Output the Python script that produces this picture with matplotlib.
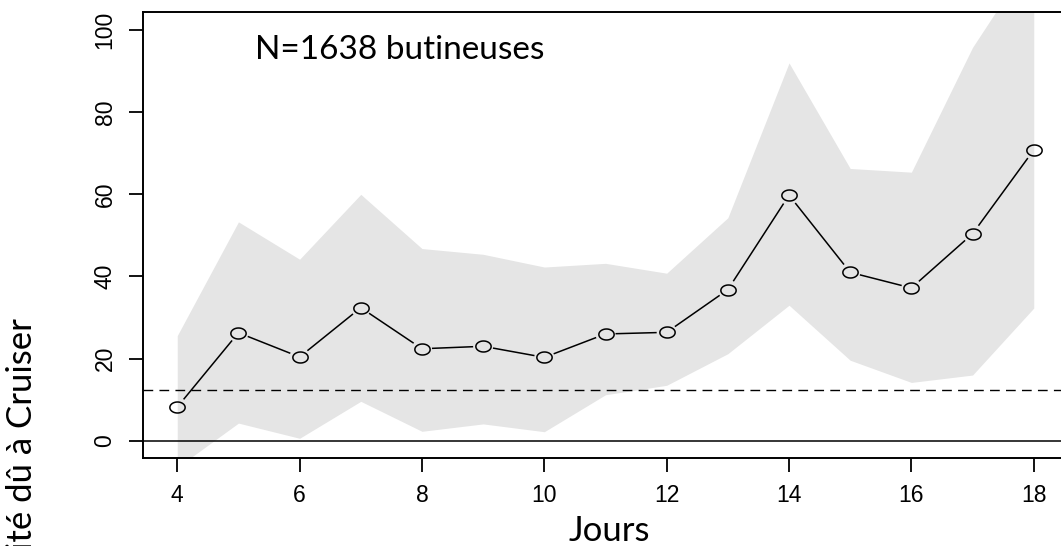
import numpy as np
import matplotlib
matplotlib.use("Agg")
import matplotlib.pyplot as plt
from matplotlib.path import Path

# ---- data ----
days = [4, 5, 6, 7, 8, 9, 10, 11, 12, 13, 14, 15, 16, 17, 18]
mean = [8.2, 26.3, 20.4, 32.4, 22.4, 23.0, 20.3, 26.0, 26.4, 36.8, 59.8, 41.0, 37.2, 50.4, 70.8]
upper = [25.6, 53.3, 44.2, 60.0, 46.8, 45.4, 42.3, 43.2, 40.8, 54.3, 92.0, 66.3, 65.4, 95.8, 118.5]
lower = [-6.5, 4.3, 0.6, 9.6, 2.3, 4.1, 2.2, 11.2, 13.5, 21.2, 33.0, 19.6, 14.2, 16.0, 32.3]
ref_level = 12.4
xticks = [4, 6, 8, 10, 12, 14, 16, 18]
yticks = [0, 20, 40, 60, 80, 100]
annot = "N=1638 butineuses"
xlabel = "Jours"
ylabel = "ité dû à Cruiser"

W, H = 1061, 546
fig = plt.figure(figsize=(W / 100, H / 100), dpi=100)
ax = fig.add_axes([143 / W, (H - 458) / H, (1068 - 143) / W, (458 - 12) / H])
ax.set_xlim(3.44, 18.56)
ax.set_ylim(-4.2, 104.4)

ax.fill_between(days, lower, upper, color="#e5e5e5", lw=0, zorder=1)
ax.axhline(0, color="black", lw=1.1, zorder=2)
ax.axhline(ref_level, color="black", lw=1.0, ls=(0, (7, 4.5)), zorder=2)

# R-style type="b": lines with gaps around points
fig.canvas.draw()
gap = 10.0  # pixels
tr = ax.transData
pts = tr.transform(np.column_stack([days, mean]))
for i in range(len(days) - 1):
    p0, p1 = pts[i], pts[i + 1]
    d = p1 - p0
    L = np.hypot(*d)
    if L <= 2 * gap:
        continue
    u = d / L
    a = tr.inverted().transform(p0 + u * gap)
    b = tr.inverted().transform(p1 - u * gap)
    ax.plot([a[0], b[0]], [a[1], b[1]], color="black", lw=1.1, zorder=3,
            solid_capstyle="butt")

t = np.linspace(0, 2 * np.pi, 60)
ell = Path(np.column_stack([np.cos(t), 0.72 * np.sin(t)]), closed=True)
ax.plot(days, mean, ls="none", marker=ell, markersize=11, mfc="none",
        mec="black", mew=1.1, zorder=4)

for s in ax.spines.values():
    s.set_linewidth(1.4)
ax.spines["right"].set_visible(False)

ax.set_xticks(xticks)
ax.set_yticks(yticks)
ax.tick_params(axis="both", length=10, width=1.3, labelsize=16.5, pad=9)
for lab in ax.get_xticklabels() + ax.get_yticklabels():
    lab.set_family("Liberation Sans")
for lab in ax.get_yticklabels():
    lab.set_rotation(90)
    lab.set_va("center")

ax.text(255 / W, (H - 50) / H, annot, transform=fig.transFigure, ha="left",
        va="center", fontsize=24, family="Lato")
fig.text(609 / W, (H - 531) / H, xlabel, ha="center", va="center",
         fontsize=25, family="Lato")
fig.text(22 / W, (H - 318) / H, ylabel, ha="center", va="top", rotation=90,
         fontsize=25, family="Lato")

fig.savefig("out.png", dpi=100)
